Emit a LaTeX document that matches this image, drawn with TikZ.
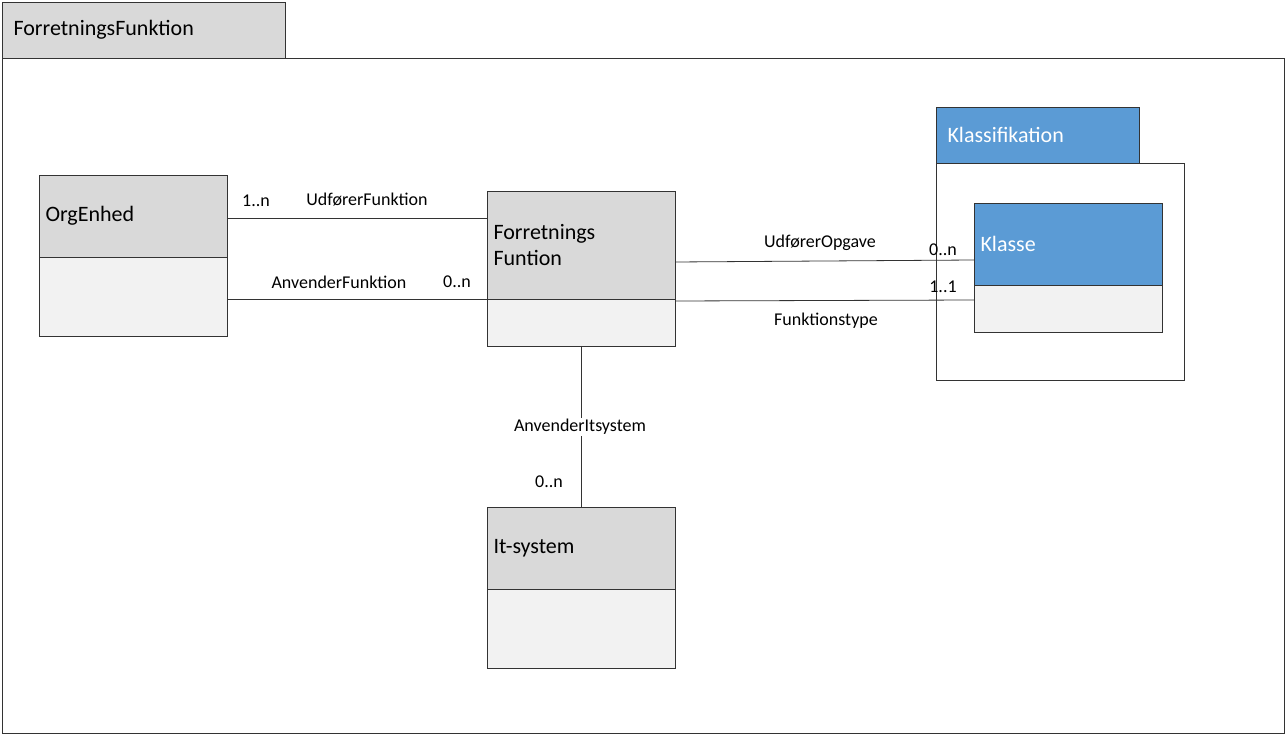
\documentclass[tikz,border=0pt]{standalone}
\usepackage{fontspec}
\setmainfont{Carlito}
\definecolor{hdgray}{HTML}{D9D9D9}
\definecolor{bdgray}{HTML}{F2F2F2}
\definecolor{pkgblue}{HTML}{5B9BD5}
\begin{document}
\begin{tikzpicture}[x=1pt,y=-1pt,
    lbl/.style = {font=\fontsize{18}{20}\selectfont, inner sep=1pt},
    ttl/.style = {font=\fontsize{22}{26}\selectfont, anchor=west, align=left},
    box/.style = {draw=black!80, line width=0.8pt}
                    ]
        \useasboundingbox (0,0) rectangle (1286,735);
        % outer package
        \draw[box, fill=hdgray] (2,2) rectangle (285,58);
        \node[ttl] (pkgtitle) at (10,30) {ForretningsFunktion};
        \draw[box] (2,58) rectangle (1284,733);
        % classes
        \foreach \n/\x/\y/\h/\b in {org/39/175/257/336, fun/487/191/299/346, its/487/507/589/668}
            {
            \draw[box, fill=hdgray] (\x,\y) rectangle (\x+188,\h);
            \draw[box, fill=bdgray] (\x,\h) rectangle (\x+188,\b);
            \coordinate (\n) at (\x,\y);
            }
        \node[ttl] (orgtitle) at (42,216) {OrgEnhed};
        \node[ttl] (funtitle) at (490,245) {Forretnings\\Funtion};
        \node[ttl] (itstitle) at (490,548) {It-system};
        % Klassifikation
        \draw[box, fill=pkgblue] (936,107) rectangle (1139,163);
        \node[ttl, text=white] (klasstitle) at (944,135) {Klassifikation};
        \draw[box] (936,163) rectangle (1184,380);
        \draw[box, fill=pkgblue] (974,203) rectangle (1162,285);
        \draw[box, fill=bdgray] (974,285) rectangle (1162,332);
        \node[ttl, text=white] (klassetitle) at (977,244) {Klasse};
        % associations
        \coordinate (a1) at (228,218); \coordinate (a2) at (487,218);
        \coordinate (b1) at (228,299); \coordinate (b2) at (487,299);
        \coordinate (c1) at (675,262); \coordinate (c2) at (974,260);
        \coordinate (d1) at (675,301); \coordinate (d2) at (974,300);
        \coordinate (e1) at (581,346); \coordinate (e2) at (581,507);
        \draw[box] (a1) -- (a2);
        \draw[box] (b1) -- (b2);
        \draw[box] (c1) -- (c2);
        \draw[box] (d1) -- (d2);
        \draw[box] (e1) -- (e2);
        \node[lbl] (m1) at (256,201) {1..n};
        \node[lbl] (l1) at (367,200) {UdførerFunktion};
        \node[lbl] (l2) at (339,282) {AnvenderFunktion};
        \node[lbl] (m2) at (457,282) {0..n};
        \node[lbl] (l3) at (820,243) {UdførerOpgave};
        \node[lbl] (m3) at (943,250) {0..n};
        \node[lbl] (m4) at (943,287) {1..1};
        \node[lbl] (l4) at (826,321) {Funktionstype};
        \node[lbl, fill=white] (l5) at (580,427) {AnvenderItsystem};
        \node[lbl] (m5) at (549,482) {0..n};
    \end{tikzpicture}
\end{document}
